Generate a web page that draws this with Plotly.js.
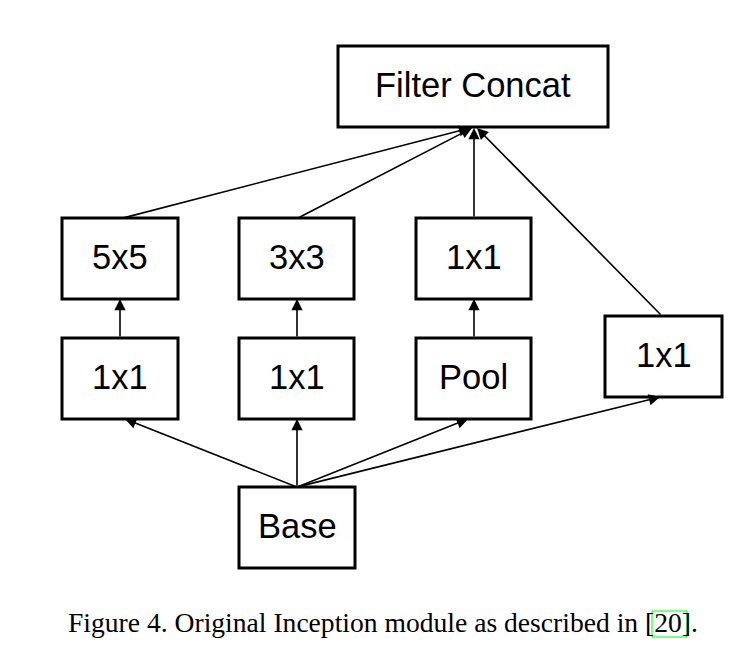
<!DOCTYPE html>
<html>
<head>
<meta charset="utf-8">
<script src="https://cdn.plot.ly/plotly-3.0.1.min.js"></script>
<style>html,body{margin:0;padding:0;background:#fff;}#chart{width:747px;height:663px;}</style>
</head>
<body>
<div id="chart"></div>
<script>
// Nodes of the diagram
var nodeLabels = ["Filter Concat", "5x5", "3x3", "1x1", "1x1", "1x1", "Pool", "1x1", "Base"];
var nodeLeft   = [338, 62, 239, 416, 62, 239, 416, 605, 239];
var nodeRight  = [608, 178, 354, 531, 178, 354, 531, 722, 355];
var nodeTop    = [46, 218, 218, 218, 338, 338, 338, 316, 487];
var nodeBottom = [127, 299, 299, 299, 419, 419, 419, 397, 568];

// Edges (arrow from tail to head)
var edgeFromX = [297, 297, 297, 297, 120, 297, 474, 123, 298, 474, 662];
var edgeFromY = [487, 487, 487, 487, 338, 338, 338, 218, 218, 218, 316];
var edgeToX   = [125, 297, 468, 660, 120, 297, 474, 470, 472, 474, 477];
var edgeToY   = [419, 419, 419, 397, 299, 299, 299, 128, 128, 128, 128];

var captionText = "Figure 4. Original Inception module as described in [20].";
var citeBox = [652, 611, 687, 637];

var shapes = [];
var annotations = [];

for (var i = 0; i < nodeLabels.length; i++) {
  shapes.push({
    type: 'rect', xref: 'x', yref: 'y',
    x0: nodeLeft[i], x1: nodeRight[i], y0: nodeTop[i], y1: nodeBottom[i],
    line: {color: '#000', width: 3}, fillcolor: 'rgba(0,0,0,0)'
  });
  annotations.push({
    xref: 'x', yref: 'y',
    x: (nodeLeft[i] + nodeRight[i]) / 2,
    y: (nodeTop[i] + nodeBottom[i]) / 2 - 1.5,
    text: nodeLabels[i], showarrow: false,
    xanchor: 'center', yanchor: 'middle',
    font: {family: 'Liberation Sans, Arial, sans-serif', size: 34.5, color: '#000'}
  });
}

for (var j = 0; j < edgeFromX.length; j++) {
  annotations.push({
    xref: 'x', yref: 'y', axref: 'x', ayref: 'y',
    x: edgeToX[j], y: edgeToY[j], ax: edgeFromX[j], ay: edgeFromY[j],
    text: '', showarrow: true, arrowhead: 2, arrowsize: 1.4, arrowwidth: 1.6,
    arrowcolor: '#000', standoff: 0, startstandoff: 0
  });
}

annotations.push({
  xref: 'x', yref: 'y', x: 66, y: 622.5,
  text: captionText, showarrow: false, xanchor: 'left', yanchor: 'middle',
  font: {family: 'Liberation Serif, Times New Roman, serif', size: 27.6, color: '#000'}
});

shapes.push({
  type: 'rect', xref: 'x', yref: 'y',
  x0: citeBox[0], y0: citeBox[1], x1: citeBox[2], y1: citeBox[3],
  line: {color: '#00ff00', width: 1}, fillcolor: 'rgba(0,0,0,0)'
});

var layout = {
  width: 747, height: 663,
  margin: {l: 0, r: 0, t: 0, b: 0},
  paper_bgcolor: '#fff', plot_bgcolor: '#fff',
  xaxis: {range: [0, 747], visible: false, fixedrange: true},
  yaxis: {range: [663, 0], visible: false, fixedrange: true},
  showlegend: false,
  shapes: shapes,
  annotations: annotations
};

Plotly.newPlot('chart', [{x: [], y: [], type: 'scatter', mode: 'markers', hoverinfo: 'skip'}], layout, {staticPlot: true, displayModeBar: false});
</script>
</body>
</html>
